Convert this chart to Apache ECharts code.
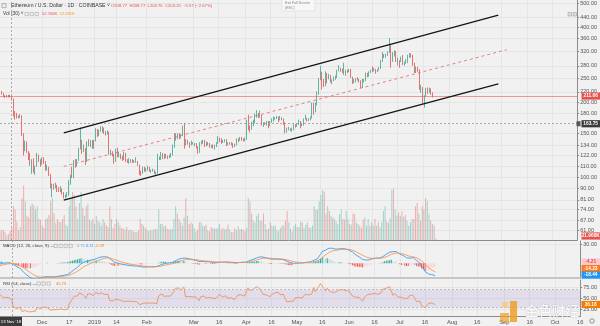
<!DOCTYPE html>
<html><head><meta charset="utf-8">
<script src="https://cdn.jsdelivr.net/npm/echarts@6/dist/echarts.min.js"></script>
<style>html,body{margin:0;padding:0;background:#f1f1f1;overflow:hidden}#c{width:600px;height:326px}</style>
</head><body><div id="c"></div>
<script>
// ---------- DATA (ETH/USD daily, Coinbase) ----------
// closes used only to warm up the indicators (2018-10-01 .. 2018-11-05)
const warmupCloses = [231,225,219,222,227,224,226,229,227,225,189,195,197,195,210,210,208,204,203,205,206,204,203,205,203,203,204,203,196,197,198,201,203,200,211,208];
const firstDate = '2018-11-06';
const lastAxisDate = '2019-10-16';
const closes = [
 219,218,212,210,213,212,211,206,182,180,175,174,177,149,130,137,126,123,113,116,108,111,122,118,113,
 118,116,108,110,102,91,93,91,92,90,88,90,86,84,84,85,95,101,100,116,111,117,130,140,129,131,116,138,134,140,132,
 140,155,147,153,155,157,150,149,151,125,125,123,115,129,121,123,121,118,123,117,116,117,116,116,115,115,112,105,104,108,106,
 107,110,106,106,106,104,104,119,119,125,120,122,121,120,121,123,132,145,144,148,144,147,159,135,140,137,136,136,
 136,136,132,126,137,138,139,134,138,136,133,134,132,133,137,143,140,138,140,141,136,137,137,136,134,135,142,141,143,142,141,
 142,163,159,157,164,166,177,180,176,177,165,165,164,167,161,167,168,173,173,174,170,171,171,164,155,155,156,155,156,162,
 160,163,167,162,162,171,172,170,170,173,195,187,196,216,248,264,244,234,262,251,256,244,245,249,253,267,273,271,268,268,268,
 266,270,251,243,246,247,245,244,230,246,246,260,255,264,269,268,270,266,270,274,294,308,306,310,318,337,295,312,318,292,
 293,291,303,283,288,289,307,313,308,287,268,275,269,227,229,200,212,227,220,226,217,211.66];
const highs = [
 220,222,218,213,214,214,214,212,207,184,181,177,179,177,150,140,139,127,125,118,119,111,125,123,118,
 120,120,116,112,110,103,94,94,95,93,91,92,90,87,85,87,97,102,110,117,118,118,131,158,141,135,131,139,142,141,141,
 141,157,156,155,160,160,158,153,154,152,129,127,124,130,131,126,124,122,126,125,118,119,118,118,117,120,116,112,106,110,110,
 109,111,110,107,108,107,105,124,121,126,125,124,124,122,123,125,135,150,150,150,150,149,161,165,142,141,138,140,
 138,137,137,133,138,140,141,141,139,138,137,135,135,135,138,146,144,143,141,142,142,138,138,138,137,136,143,143,145,145,143,
 144,170,178,161,167,170,180,186,181,185,178,166,166,168,168,168,172,175,174,176,175,176,174,172,166,158,159,157,158,163,
 163,164,170,168,165,172,178,173,172,175,199,199,199,221,250,280,265,248,266,262,260,257,247,253,256,270,282,275,273,288,270,
 270,272,272,253,248,250,252,248,245,248,248,263,262,266,270,278,275,272,271,277,296,318,312,313,320,362,340,318,323,321,
 302,295,305,309,291,298,310,315,314,310,288,278,277,271,235,230,213,228,229,229,227,219];
const lows = [
 207,215,210,208,209,209,209,203,175,170,172,172,173,146,122,127,125,117,111,103,104,102,110,115,110,
 112,113,106,106,101,90,83,89,90,87,87,87,85,82,82,83,84,93,99,99,109,110,116,129,124,126,112,115,133,132,130,
 130,139,145,146,152,151,149,147,148,123,122,121,113,115,120,120,118,116,117,115,114,113,114,114,114,114,111,102,101,103,105,
 105,106,105,104,105,103,102,103,117,117,118,118,119,118,119,120,122,131,140,142,142,143,146,130,134,135,131,134,
 135,133,130,124,125,135,136,132,133,134,131,131,130,129,132,136,138,136,137,138,133,134,135,134,131,132,134,138,140,140,139,
 139,141,154,151,155,160,164,173,173,173,161,159,162,161,157,160,165,167,170,171,166,169,169,162,150,151,154,153,152,154,
 158,159,162,157,160,161,170,167,168,169,172,178,182,194,214,245,225,230,232,238,247,240,236,243,246,250,266,265,262,257,255,
 262,264,250,237,238,240,244,240,228,228,240,243,252,253,262,264,266,260,264,268,272,290,301,302,307,315,275,290,305,290,
 281,275,290,282,280,285,287,302,302,280,262,262,265,224,218,197,190,210,216,218,214,209];
// volume in thousands of ETH
const volumes = [
 110,130,120,100,60,70,110,150,420,380,230,120,160,520,680,480,300,280,420,450,430,380,420,260,250,
 180,150,260,270,310,480,520,330,210,260,230,220,260,310,190,170,420,520,600,560,420,260,460,600,400,300,420,450,250,230,260,
 200,300,240,220,180,260,220,180,160,420,260,150,200,260,220,180,150,140,130,160,120,130,120,110,100,100,120,260,200,180,150,
 130,110,120,120,130,140,130,380,200,200,170,180,140,130,130,140,260,420,330,260,220,180,280,520,300,200,220,200,
 150,110,130,220,220,180,170,190,120,110,160,150,140,140,150,200,130,150,130,140,190,130,100,100,150,120,170,130,140,130,110,
 150,520,480,330,240,220,300,330,240,240,330,200,130,140,220,180,170,180,120,110,150,180,180,240,360,220,140,110,170,200,
 160,160,230,220,150,190,220,160,150,180,420,380,380,480,560,620,600,330,420,360,300,280,260,230,200,320,380,260,250,360,260,
 200,190,330,320,220,200,180,150,250,280,180,260,180,220,180,260,180,220,160,220,360,420,230,210,270,620,640,380,300,340,
 300,360,290,310,240,180,220,260,260,420,460,330,240,420,380,520,480,330,240,200,180,21.968];
// price-scale tick labels (log scale)
const priceTicks = [500,440,400,360,320,280,250,220,200,180,150,134,122,110,100,90,81,74,67,61];
const macdTicks = [30];
const rsiTicks = [25,50,75];
const timeTickDates = ['2018-12-01','2018-12-17','2019-01-01','2019-01-14','2019-02-01','2019-03-01','2019-03-16','2019-04-01','2019-04-16','2019-05-01','2019-05-16','2019-06-01','2019-06-16','2019-07-01','2019-07-16','2019-08-01','2019-08-16','2019-09-01','2019-09-16','2019-10-01','2019-10-16'];
const timeTickTexts = ['Dec','17','2019','14','Feb','Mar','16','Apr','16','May','16','Jun','16','Jul','16','Aug','16','Sep','16','Oct','16'];
// drawn channel (date, price)
const channelUpper = [['2018-12-14',150.4],['2019-08-30',448]];
const channelLower = [['2018-12-14',80.8],['2019-08-30',237]];
const channelMid   = [['2018-12-14',110.3],['2019-09-04',325]];
const crosshairDate = '2018-11-13';
const crosshairPrice = 163.75;
const lastPrice = 211.66;
const macdLastLabels = [-4.21, -14.23, -18.44]; // histogram, signal, macd

// ---------- BUILD ----------
const FONT = '"Liberation Sans", Arial, sans-serif';
const UP = '#3aa68e', DOWN = '#e4524e';
const dates = [];
{ const d = new Date(firstDate+'T00:00:00Z'); const end = new Date(lastAxisDate+'T00:00:00Z').getTime();
  while (d.getTime() <= end) { dates.push(d.toISOString().slice(0,10)); d.setUTCDate(d.getUTCDate()+1); } }
const idx = s => dates.indexOf(s);
const tickMap = {}; timeTickDates.forEach((d,i)=>tickMap[d]=timeTickTexts[i]);
const tickInterval = (i, v) => Object.prototype.hasOwnProperty.call(tickMap, v);

const opens = closes.map((c,i)=> i===0 ? warmupCloses[warmupCloses.length-1] : closes[i-1]);
const candleData = closes.map((c,i)=>[Math.log(opens[i]), Math.log(c), Math.log(lows[i]), Math.log(highs[i])]);
const volData = volumes.map((v,i)=>({value:v, itemStyle:{color: closes[i]>=opens[i] ? 'rgba(58,166,142,0.42)' : 'rgba(228,82,78,0.42)'}}));

// indicators
const all = warmupCloses.concat(closes);
function ema(arr,n){ const k=2/(n+1); let p=arr[0]; return arr.map((v,i)=> (p = i===0 ? v : v*k + p*(1-k))); }
const e12 = ema(all,12), e26 = ema(all,26);
const macdAll = e12.map((v,i)=>v-e26[i]);
const sigAll = ema(macdAll,9);
const histAll = macdAll.map((v,i)=>v-sigAll[i]);
function rsi(arr,n){ const out=[null]; let ag=0, al=0;
  for (let i=1;i<arr.length;i++){ const d=arr[i]-arr[i-1], g=Math.max(d,0), l=Math.max(-d,0);
    if (i<=n){ ag+=g/n; al+=l/n; out.push(i===n ? 100-100/(1+ag/al) : null); }
    else { ag=(ag*(n-1)+g)/n; al=(al*(n-1)+l)/n; out.push(al===0?100:100-100/(1+ag/al)); } }
  return out; }
const rsiAll = rsi(all,14);
const off = warmupCloses.length;
const macdLine = macdAll.slice(off), sigLine = sigAll.slice(off), hist = histAll.slice(off), rsiLine = rsiAll.slice(off);
const histData = hist.map((h,i)=>{ const p = i===0 ? histAll[off-1] : hist[i-1];
  const c = h>=0 ? (h>=p ? '#26a69a' : '#b2dfdb') : (h<p ? '#ef5350' : '#ffcdd2');
  return {value:h, itemStyle:{color:c}}; });

const chanLine = (pts, color, type, w) => ({type:'line', xAxisIndex:0, yAxisIndex:0, data: pts.map(p=>[idx(p[0]), Math.log(p[1])]),
  symbol:'none', silent:true, z:5, lineStyle:{color, type, width:w}});

function mkX(gi, line, showLabel){
  return {type:'category', gridIndex:gi, data:dates, boundaryGap:false,
    axisLine:{show:!!line, onZero:false, lineStyle: line ? {color:line.c, width:line.w} : {}},
    axisTick:{show:false},
    axisLabel:{show:!!showLabel, interval:tickInterval, formatter:v=>tickMap[v]||'', fontSize:5.8, color:'#555', margin:3, fontFamily:FONT},
    splitLine:{show: gi!==1, interval:tickInterval, lineStyle:{color:'#e5e5e5', width:1}}};
}
function mkY(gi, min, max, ticks, fmt){
  return {type:'value', gridIndex:gi, position:'right', min, max, scale:true,
    axisLine:{show:true, lineStyle:{color:'#8c8c8c', width:1}},
    axisTick:{show:true, length:2, customValues:ticks, lineStyle:{color:'#8c8c8c'}},
    axisLabel:{show:true, customValues:ticks, formatter:fmt, fontSize:5.5, color:'#555', margin:3, fontFamily:FONT},
    splitLine:{show:true, lineStyle:{color:'#e5e5e5', width:1}}};
}
const lnTicks = priceTicks.map(p=>Math.log(p));
const crossIdx = idx(crosshairDate);
const vCross = {xAxis: crossIdx, lineStyle:{color:'#9a9a9a', type:[2,2], width:0.8}};
const sq = (x,y) => ({type:'rect', shape:{x,y,width:3.3,height:3.3}, style:{fill:'none', stroke:'#999', lineWidth:0.5}});

const staticGraphics = [
  // header line 1
  {type:'rect', shape:{x:2,y:3.7,width:4,height:4}, style:{fill:'none', stroke:'#888', lineWidth:0.6}},
  {type:'text', x:11, y:5.8, style:{text:'Ethereum / U.S. Dollar · 1D · COINBASE ˅', font:'5.2px '+FONT, fill:'#333', verticalAlign:'middle'}},
  {type:'text', x:111, y:6, style:{text:'O208.77  H208.77  L203.76  C203.20  −5.57 (−2.67%)', font:'4.2px '+FONT, fill:'#e4524e', verticalAlign:'middle'}},
  // header line 2
  {type:'text', x:3, y:14, style:{text:'Vol (30) ˅', font:'4.8px '+FONT, fill:'#333', verticalAlign:'middle'}},
  sq(25,12.4), sq(30,12.4), sq(35,12.4),
  {type:'text', x:42, y:14, style:{text:'52.706K', font:'4.1px '+FONT, fill:'#e4524e', verticalAlign:'middle'}},
  {type:'text', x:59.5, y:14, style:{text:'52.691K', font:'4.1px '+FONT, fill:'#f39c2a', verticalAlign:'middle'}},
  // exit full screen hint
  {type:'rect', shape:{x:282,y:-1,width:33,height:12}, style:{fill:'#f7f7f7', stroke:'#dcdcdc', lineWidth:0.6}},
  {type:'text', x:285, y:3, style:{text:'Exit Full Screen', font:'3.6px '+FONT, fill:'#888', verticalAlign:'middle'}},
  {type:'text', x:285, y:7.5, style:{text:'(ESC)', font:'3.6px '+FONT, fill:'#888', verticalAlign:'middle'}},
  // top-right icons
  {type:'rect', shape:{x:568,y:12.5,width:3.5,height:3.5}, style:{fill:'#ddd', stroke:'#999', lineWidth:0.5}},
  {type:'rect', shape:{x:573,y:12.5,width:3.5,height:3.5}, style:{fill:'#ddd', stroke:'#999', lineWidth:0.5}},
  // MACD header
  {type:'text', x:3, y:246, style:{text:'MACD (12, 26, close, 9) —', font:'4.3px '+FONT, fill:'#333', verticalAlign:'middle'}},
  sq(54,244.3), sq(59,244.3), sq(64,244.3), sq(69,244.3),
  {type:'text', x:77, y:246, style:{text:'0.70', font:'4px '+FONT, fill:'#5fb8d8', verticalAlign:'middle'}},
  {type:'text', x:86, y:246, style:{text:'0.11', font:'4px '+FONT, fill:'#2196f3', verticalAlign:'middle'}},
  {type:'text', x:95, y:246, style:{text:'-0.29', font:'4px '+FONT, fill:'#f57c00', verticalAlign:'middle'}},
  // RSI header
  {type:'text', x:3, y:283.5, style:{text:'RSI (14, close) —', font:'4.3px '+FONT, fill:'#333', verticalAlign:'middle'}},
  sq(37,281.9), sq(42,281.9), sq(47,281.9),
  {type:'text', x:56, y:283.5, style:{text:'45.73', font:'4px '+FONT, fill:'#f57c00', verticalAlign:'middle'}},
  // crosshair date box
  {type:'rect', shape:{x:0,y:317,width:22,height:9}, style:{fill:'#3c3c3c'}, z:50},
  {type:'text', x:11, y:321.5, style:{text:"13 Nov '18", font:'4.3px '+FONT, fill:'#fff', align:'center', verticalAlign:'middle'}, z:51},
  // gear icon
  {type:'circle', shape:{cx:592,cy:321,r:2.2}, style:{fill:'none', stroke:'#777', lineWidth:0.8}},
  // watermark
  {type:'rect', shape:{x:510,y:301,width:7,height:21}, style:{fill:'rgba(240,160,40,0.85)'}, z:60},
  {type:'rect', shape:{x:500,y:313,width:9,height:9}, style:{fill:'rgba(240,160,40,0.7)'}, z:60},
  {type:'rect', shape:{x:502,y:302,width:6,height:6}, style:{fill:'rgba(250,200,90,0.6)'}, z:60},
  {type:'text', x:525, y:311, style:{text:'金色财经', font:'13.5px "Noto Sans CJK SC", sans-serif', fill:'rgba(255,255,255,0.95)', verticalAlign:'middle',
     stroke:'rgba(150,150,150,0.45)', lineWidth:0.6}, z:60}
];

const option = {
  animation:false,
  backgroundColor:'#f1f1f1',
  textStyle:{fontFamily:FONT},
  grid:[
    {left:0, right:19, top:0, height:240},
    {left:0, right:19, top:182, height:58},
    {left:0, right:19, top:241, height:37},
    {left:0, right:19, top:280, height:36}
  ],
  xAxis:[ mkX(0,{c:'#8c8c8c',w:1}), Object.assign(mkX(1,null), {show:false}), mkX(2,{c:'#c6c6c6',w:2}), mkX(3,{c:'#8c8c8c',w:1},true) ],
  yAxis:[
    mkY(0, Math.log(100)-63/108, Math.log(100)+177/108, lnTicks, v=>Math.exp(v).toFixed(2)),
    {type:'value', gridIndex:1, show:false, min:0, max:720, splitLine:{show:false}},
    mkY(2, -23, 35, macdTicks, v=>v.toFixed(2)),
    mkY(3, 10, 92, rsiTicks, v=>v.toFixed(2))
  ],
  series:[
    {type:'bar', xAxisIndex:1, yAxisIndex:1, data:volData, barWidth:1, silent:true, z:1},
    {type:'candlestick', xAxisIndex:0, yAxisIndex:0, data:candleData, barWidth:0.7, z:4,
      itemStyle:{color:UP, color0:DOWN, borderColor:UP, borderColor0:DOWN, borderWidth:0.8},
      markLine:{silent:true, symbol:['none','none'], label:{show:false}, animation:false, data:[
        vCross,
        {yAxis:Math.log(crosshairPrice), lineStyle:{color:'#9a9a9a', type:[2,2], width:0.8}},
        {yAxis:Math.log(lastPrice), lineStyle:{color:'#e4524e', type:'solid', width:0.7, opacity:0.8}}
      ]}},
    chanLine(channelUpper, '#151515', 'solid', 1.3),
    chanLine(channelLower, '#151515', 'solid', 1.3),
    chanLine(channelMid, '#e57373', [3,3], 0.9),
    {type:'bar', xAxisIndex:2, yAxisIndex:2, data:histData, barWidth:1, silent:true, z:2},
    {type:'line', xAxisIndex:2, yAxisIndex:2, data:macdLine, symbol:'none', silent:true, z:3, lineStyle:{color:'#2196f3', width:0.8},
      markLine:{silent:true, symbol:['none','none'], label:{show:false}, data:[vCross]}},
    {type:'line', xAxisIndex:2, yAxisIndex:2, data:sigLine, symbol:'none', silent:true, z:3, lineStyle:{color:'#ff8a3d', width:0.8}},
    {type:'line', xAxisIndex:3, yAxisIndex:3, data:rsiLine, symbol:'none', silent:true, z:3, lineStyle:{color:'#f0884a', width:0.8},
      markArea:{silent:true, itemStyle:{color:'rgba(149,117,205,0.16)'}, data:[[{yAxis:30},{yAxis:70}]]},
      markLine:{silent:true, symbol:['none','none'], label:{show:false}, data:[
        vCross,
        {yAxis:70, lineStyle:{color:'#aaa', type:[2,2], width:0.7}},
        {yAxis:30, lineStyle:{color:'#aaa', type:[2,2], width:0.7}}
      ]}}
  ],
  graphic: staticGraphics
};

const chart = echarts.init(document.getElementById('c'), null, {renderer:'canvas', width:600, height:326});
chart.setOption(option);

// right-hand value boxes positioned through the axes
function valBox(y, text, bg, fg){
  return [
    {type:'rect', shape:{x:581.5, y:y-3.6, width:18.5, height:7.2}, style:{fill:bg}, z:100},
    {type:'text', x:590.7, y:y, style:{text, font:'bold 4.8px '+FONT, fill:fg, align:'center', verticalAlign:'middle'}, z:101}
  ];
}
const yPrice = chart.convertToPixel({yAxisIndex:0}, Math.log(lastPrice));
const yCross = chart.convertToPixel({yAxisIndex:0}, Math.log(crosshairPrice));
const yVol = chart.convertToPixel({yAxisIndex:1}, 0) - 4;
let yM = chart.convertToPixel({yAxisIndex:2}, macdLastLabels[2]);
let yS = Math.min(chart.convertToPixel({yAxisIndex:2}, macdLastLabels[1]), yM - 6.5);
let yH = Math.min(chart.convertToPixel({yAxisIndex:2}, macdLastLabels[0]), yS - 6.5);
const rsiLast = rsiLine[closes.length-1];
const yR = chart.convertToPixel({yAxisIndex:3}, rsiLast);
const boxes = [].concat(
  valBox(yPrice, lastPrice.toFixed(2), '#e4524e', '#fff'),
  valBox(yCross, crosshairPrice.toFixed(2), '#3c3c3c', '#fff'),
  [{type:'rect', shape:{x:576.5, y:yCross-2.5, width:4, height:5}, style:{fill:'#555'}, z:100}],
  valBox(yVol, '21.968K', '#e4524e', '#fff'),
  valBox(yH, macdLastLabels[0].toFixed(2), '#f8c9cf', '#e4524e'),
  valBox(yS, macdLastLabels[1].toFixed(2), '#ff7a1a', '#fff'),
  valBox(yM, macdLastLabels[2].toFixed(2), '#2196f3', '#fff'),
  valBox(yR, rsiLast.toFixed(2), '#f57c00', '#fff')
);
chart.setOption({graphic: staticGraphics.concat(boxes)}, {replaceMerge:['graphic']});
</script>
</body></html>
